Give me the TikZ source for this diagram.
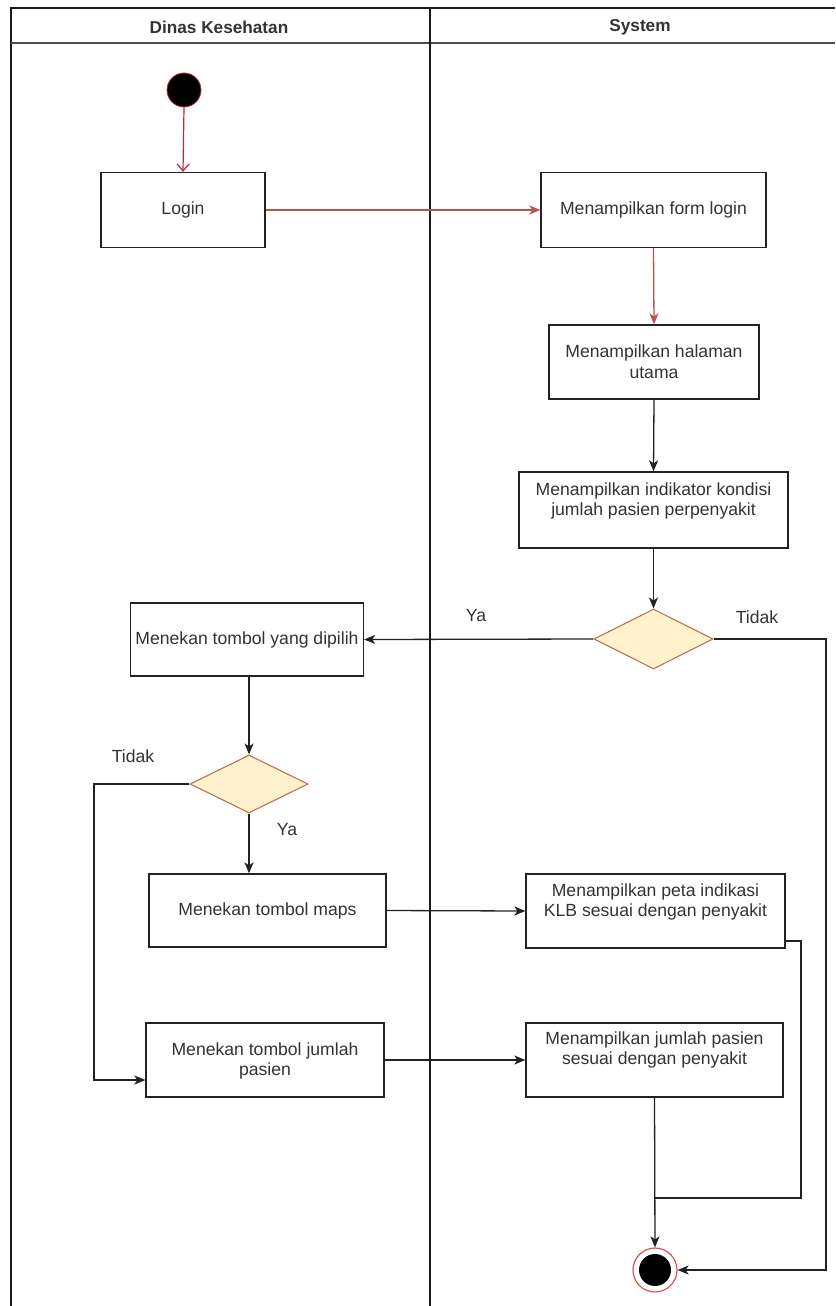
\documentclass[tikz,border=0pt]{standalone}
\usepackage{fontspec}
\setmainfont{Liberation Sans}
\usetikzlibrary{arrows.meta,shapes.geometric,calc}

\definecolor{ink}{HTML}{333333}
\definecolor{edge}{HTML}{222222}
\definecolor{lane}{HTML}{1A1A1A}
\definecolor{flowred}{HTML}{B85450}
\definecolor{startred}{HTML}{C0283C}
\definecolor{decfill}{HTML}{FFF2CC}
\definecolor{decdraw}{HTML}{C0704F}
\definecolor{endring}{HTML}{D9534F}

\begin{document}
\begin{tikzpicture}[x=1pt,y=-1pt,
  every node/.style={font=\fontsize{17.6}{20.8}\selectfont, text=ink},
  actbox/.style={rectangle, draw=edge, line width=1.3pt, fill=white, inner sep=0pt},
  txt/.style={align=center, inner sep=0pt},
  decision/.style={diamond, draw=decdraw, line width=1.1pt, fill=decfill, inner sep=0pt},
  flow/.style={draw=edge, line width=1.3pt, -{Stealth[length=11pt,width=9pt,inset=3pt]}},
  redflow/.style={draw=flowred, line width=1.3pt, -{Stealth[length=11pt,width=9pt,inset=3pt]}},
  plain/.style={draw=edge, line width=1.3pt},
  lanehead/.style={font=\bfseries\fontsize{17.2}{20}\selectfont, text=ink}
]
\useasboundingbox (0,0) rectangle (835,1306);

% swimlane frame
\draw[lane, line width=1.2pt] (11,1306) -- (11,8) -- (835,8);
\draw[black!70, line width=1.6pt] (11,43) -- (835,43);
\draw[lane, line width=1.2pt] (430,8) -- (430,1306);
\node[lanehead] (laneA) at (219,27) {Dinas Kesehatan};
\node[lanehead] (laneB) at (640,27) {System};

% start and end
\node[circle, fill=black, draw=startred, line width=0.8pt, minimum size=34pt, inner sep=0pt] (start) at (184,90) {};
\node[circle, draw=endring, line width=1.2pt, fill=white, minimum size=44pt, inner sep=0pt] (end) at (655,1270) {};
\fill[black] (end.center) circle (16);

% activities
\node[actbox, minimum width=164pt, minimum height=75pt] (login) at (183,210) {};
\node[txt] at (login.center) {Login};

\node[actbox, minimum width=225pt, minimum height=75pt] (form) at (653.5,210) {};
\node[txt] at (form.center) {Menampilkan form login};

\node[actbox, minimum width=210pt, minimum height=74pt] (home) at (654,362) {};
\node[txt] at (home.center) {Menampilkan halaman\\utama};

\node[actbox, minimum width=269pt, minimum height=76pt] (indik) at (653.5,510) {};
\node[txt] at ($(indik.center)+(0,-9)$) {Menampilkan indikator kondisi\\jumlah pasien perpenyakit};

\node[actbox, minimum width=233pt, minimum height=73pt] (pick) at (247,639.5) {};
\node[txt] at (pick.center) {Menekan tombol yang dipilih};

\node[actbox, minimum width=237pt, minimum height=73pt] (maps) at (267.5,910.5) {};
\node[txt] at (maps.center) {Menekan tombol maps};

\node[actbox, minimum width=259pt, minimum height=74pt] (peta) at (655.5,911) {};
\node[txt] at ($(peta.center)+(0,-9)$) {Menampilkan peta indikasi\\KLB sesuai dengan penyakit};

\node[actbox, minimum width=238pt, minimum height=74pt] (count) at (265,1060) {};
\node[txt] at ($(count.center)+(0,1)$) {Menekan tombol jumlah\\pasien};

\node[actbox, minimum width=257pt, minimum height=74pt] (showcount) at (654.5,1060) {};
\node[txt] at ($(showcount.center)+(0,-10)$) {Menampilkan jumlah pasien\\sesuai dengan penyakit};

% decisions
\node[decision, minimum width=119pt, minimum height=60pt] (d1) at (653.5,639) {};
\node[decision, minimum width=118pt, minimum height=58pt] (d2) at (249,784) {};

% routing points
\coordinate (r1) at (826,639);
\coordinate (l1) at (94,784);
\coordinate (r2) at (801,941);
\coordinate (merge) at (655,1198);

% connectors
\draw[draw=startred, line width=1.2pt, -{Straight Barb[length=7pt,width=12pt]}] (start.south) -- (login.north);
\draw[redflow] (login.east) -- (form.west);
\draw[redflow] (form.south) -- (home.north);
\draw[flow] (home.south) -- (indik.north);
\draw[flow] (indik.south) -- (d1.north);
\draw[flow] (d1.west) -- (pick.east);
\draw[flow] (d1.east) -- (r1) |- (end.east);
\draw[flow] (pick.south -| d2.north) -- (d2.north);
\draw[flow] (d2.south) -- (d2.south |- maps.north);
\draw[flow] (d2.west) -- (l1) |- ($(count.west)+(0,20)$);
\draw[flow] (maps.east) -- (peta.west);
\draw[flow] (count.east) -- (showcount.west);
\draw[plain] ($(peta.east)+(0,30)$) -- (r2) |- (merge);
\draw[flow] (showcount.south) -- (end.north);

% guard labels
\node (ya1) at (476,616) {Ya};
\node (tidak1) at (757,617) {Tidak};
\node (tidak2) at (133,756) {Tidak};
\node (ya2) at (287,830) {Ya};
\end{tikzpicture}
\end{document}
